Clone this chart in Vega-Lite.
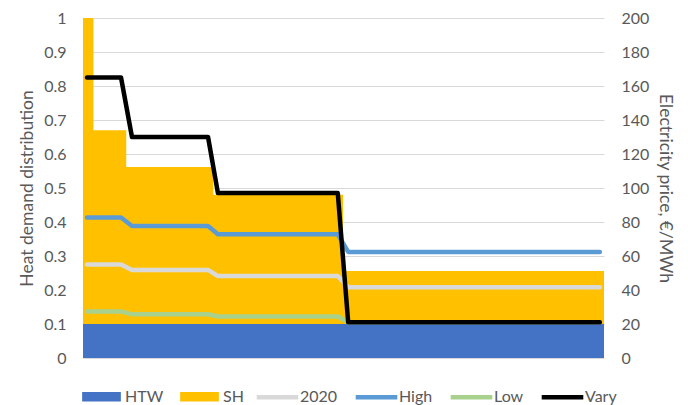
{
  "$schema": "https://vega.github.io/schema/vega-lite/v6.json",
  "width": 521,
  "height": 340,
  "autosize": {"type": "none"},
  "padding": {"left": 83, "top": 18, "right": 84, "bottom": 47},
  "config": {
    "view": {"stroke": null},
    "font": "Lato",
    "axis": {
      "domain": false,
      "ticks": false,
      "labelFontSize": 16,
      "labelColor": "#595959",
      "titleFontSize": 17.5,
      "titleColor": "#595959",
      "titleFontWeight": "normal",
      "labelPadding": 17,
      "titlePadding": 7
    },
    "legend": {
      "labelFontSize": 16,
      "labelColor": "#595959",
      "padding": 0,
      "labelOffset": 4,
      "columnPadding": 16,
      "direction": "horizontal",
      "orient": "none"
    }
  },
  "datasets": {
    "areas": [
      {"series": "HTW", "t": 0, "lo": 0, "hi": 0.1},
      {"series": "HTW", "t": 100, "lo": 0, "hi": 0.1},
      {"series": "SH", "t": 0, "lo": 0.1, "hi": 1.0},
      {"series": "SH", "t": 2.0, "lo": 0.1, "hi": 0.67},
      {"series": "SH", "t": 8.3, "lo": 0.1, "hi": 0.562},
      {"series": "SH", "t": 25.0, "lo": 0.1, "hi": 0.48},
      {"series": "SH", "t": 49.9, "lo": 0.1, "hi": 0.256},
      {"series": "SH", "t": 100, "lo": 0.1, "hi": 0.256}
    ],
    "lines": [
      {"series": "2020", "t": 0.77, "price": 55.0},
      {"series": "2020", "t": 7.3, "price": 55.0},
      {"series": "2020", "t": 9.4, "price": 51.8},
      {"series": "2020", "t": 24.0, "price": 51.8},
      {"series": "2020", "t": 25.9, "price": 48.2},
      {"series": "2020", "t": 48.9, "price": 48.2},
      {"series": "2020", "t": 50.9, "price": 41.6},
      {"series": "2020", "t": 99.2, "price": 41.6},
      {"series": "High", "t": 0.77, "price": 82.6},
      {"series": "High", "t": 7.3, "price": 82.6},
      {"series": "High", "t": 9.4, "price": 77.6},
      {"series": "High", "t": 24.0, "price": 77.6},
      {"series": "High", "t": 25.9, "price": 72.8},
      {"series": "High", "t": 48.9, "price": 72.8},
      {"series": "High", "t": 50.9, "price": 62.4},
      {"series": "High", "t": 99.2, "price": 62.4},
      {"series": "Low", "t": 0.77, "price": 27.4},
      {"series": "Low", "t": 7.3, "price": 27.4},
      {"series": "Low", "t": 9.4, "price": 25.7},
      {"series": "Low", "t": 24.0, "price": 25.7},
      {"series": "Low", "t": 25.9, "price": 24.4},
      {"series": "Low", "t": 48.9, "price": 24.4},
      {"series": "Low", "t": 50.9, "price": 21.0},
      {"series": "Low", "t": 99.2, "price": 21.0},
      {"series": "Vary", "t": 0.77, "price": 165.0},
      {"series": "Vary", "t": 7.3, "price": 165.0},
      {"series": "Vary", "t": 9.4, "price": 130.0},
      {"series": "Vary", "t": 24.0, "price": 130.0},
      {"series": "Vary", "t": 25.9, "price": 97.0},
      {"series": "Vary", "t": 48.9, "price": 97.0},
      {"series": "Vary", "t": 50.9, "price": 21.0},
      {"series": "Vary", "t": 99.2, "price": 21.0}
    ]
  },
  "layer": [
    {
      "data": {"name": "areas"},
      "mark": {"type": "area", "interpolate": "step-after"},
      "encoding": {
        "x": {"field": "t", "type": "quantitative", "scale": {"domain": [0, 100], "nice": false, "zero": false}, "axis": null},
        "y": {
          "field": "hi", "type": "quantitative",
          "scale": {"domain": [0, 1], "nice": false},
          "axis": {
            "title": "Heat demand distribution",
            "values": [0, 0.1, 0.2, 0.3, 0.4, 0.5, 0.6, 0.7, 0.8, 0.9, 1],
            "format": ".1~f",
            "grid": true,
            "gridColor": "#D9D9D9",
            "gridWidth": 1
          }
        },
        "y2": {"field": "lo"},
        "fill": {
          "field": "series", "type": "nominal",
          "scale": {"domain": ["HTW", "SH"], "range": ["#4472C4", "#FFC000"]},
          "legend": {
            "title": null,
            "symbolType": "M-1,-0.243H1V0.243H-1Z",
            "symbolSize": 1498,
            "symbolStrokeWidth": 0,
            "symbolOpacity": 1,
            "legendX": -1,
            "legendY": 359
          }
        }
      }
    },
    {
      "data": {"name": "lines"},
      "mark": {"type": "line", "strokeWidth": 4.5, "strokeJoin": "round", "strokeCap": "round"},
      "encoding": {
        "x": {"field": "t", "type": "quantitative", "scale": {"domain": [0, 100], "nice": false, "zero": false}, "axis": null},
        "y": {
          "field": "price", "type": "quantitative",
          "scale": {"domain": [0, 200], "nice": false},
          "axis": {
            "orient": "right",
            "title": "Electricity price, €/MWh",
            "values": [0, 20, 40, 60, 80, 100, 120, 140, 160, 180, 200],
            "grid": false
          }
        },
        "stroke": {
          "field": "series", "type": "nominal",
          "scale": {"domain": ["2020", "High", "Low", "Vary"], "range": ["#D9D9D9", "#5B9BD5", "#A9D18E", "#000000"]},
          "legend": {
            "title": null,
            "symbolType": "stroke",
            "symbolSize": 1730,
            "symbolStrokeWidth": 4.5,
            "labelOffset": -1,
            "columnPadding": 8,
            "legendX": 171,
            "legendY": 355.5
          }
        }
      }
    }
  ],
  "resolve": {"scale": {"y": "independent", "fill": "independent", "stroke": "independent"}}
}
